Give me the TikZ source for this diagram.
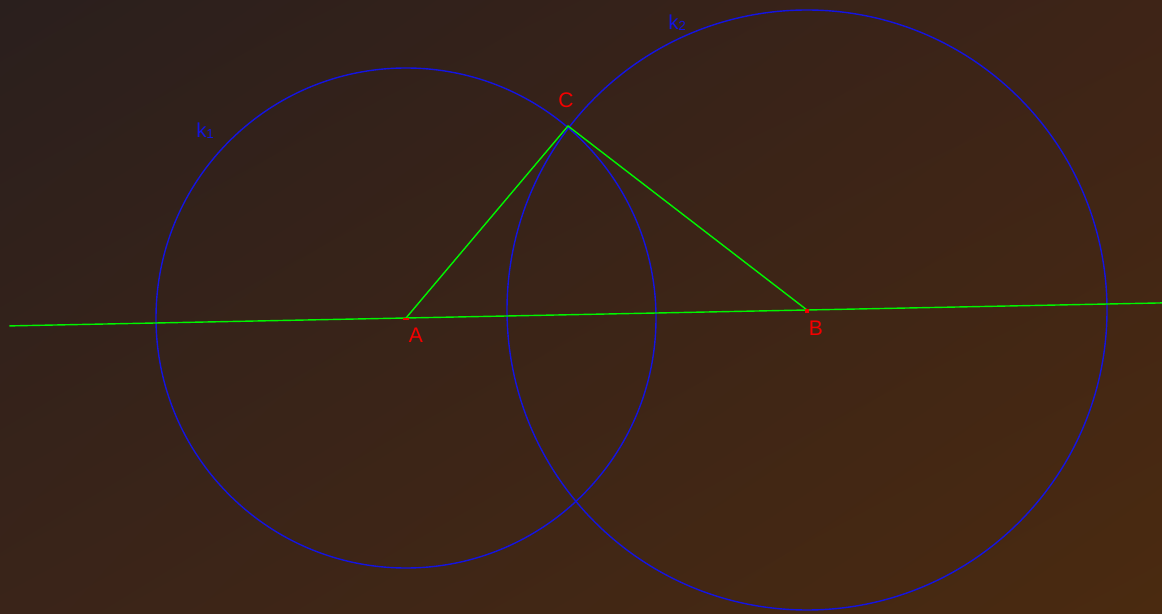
\documentclass[tikz,border=0pt]{standalone}
\usepackage{fontspec}
\setmainfont{Liberation Sans}
\usepackage{xcolor}
\usetikzlibrary{calc, positioning, shadings}

\definecolor{bgTL}{HTML}{2A1F1D}
\definecolor{bgTR}{HTML}{3E2417}
\definecolor{bgBL}{HTML}{3A2419}
\definecolor{bgBR}{HTML}{4A2A10}
\definecolor{circblue}{RGB}{20,20,225}
\definecolor{linegreen}{RGB}{0,245,0}
\definecolor{ptred}{RGB}{245,0,0}

\newcommand{\kidx}[1]{k\raisebox{-0.6pt}{\fontsize{7.5}{7.5}\selectfont #1}}

\begin{document}
\begin{tikzpicture}[x=0.02cm, y=-0.02cm,
    circ/.style={draw=circblue, line width=0.8pt},
    seg/.style={draw=linegreen, line width=0.8pt},
    ptlabel/.style={text=ptred, font=\fontsize{12}{12}\selectfont, inner sep=0pt},
    klabel/.style={text=circblue, font=\fontsize{11.5}{11.5}\selectfont, inner sep=0pt}]

    % =================================================================
    % 1. NEN (khung 1162 x 614)
    % =================================================================
    \shade[upper left=bgTL, upper right=bgTR, lower left=bgBL, lower right=bgBR]
        (0,614) rectangle (1162,0);
    \useasboundingbox (0,0) rectangle (1162,614);

    % =================================================================
    % 2. CAC DIEM CHINH
    % =================================================================
    \coordinate (A) at (406,318);
    \coordinate (B) at (807,310);
    \coordinate (C) at (568,126);

    % Hai dau cua duong thang AB
    \coordinate (L1) at ($(A)!-0.989!(B)$);
    \coordinate (L2) at ($(A)!1.885!(B)$);

    % =================================================================
    % 3. HAI DUONG TRON k1, k2
    % =================================================================
    \draw[circ] (A) circle (250);
    \draw[circ] (B) circle (300);

    % =================================================================
    % 4. DUONG THANG VA TAM GIAC
    % =================================================================
    \draw[seg] (L1) -- (L2);
    \draw[seg] (A) -- (C) -- (B);

    % Dau diem
    \fill[ptred] (A) ++(-3,0.5) rectangle ++(6,2);
    \fill[ptred] (B) ++(-2,-1) rectangle ++(4,4);

    % =================================================================
    % 5. NHAN
    % =================================================================
    \node[ptlabel] (lA) at (416,335) {A};
    \node[ptlabel] (lB) at (816,328) {B};
    \node[ptlabel] (lC) at (566,100) {C};
    \node[klabel] (k1) at (205,131) {\kidx{1}};
    \node[klabel] (k2) at (677,23) {\kidx{2}};

\end{tikzpicture}
\end{document}
